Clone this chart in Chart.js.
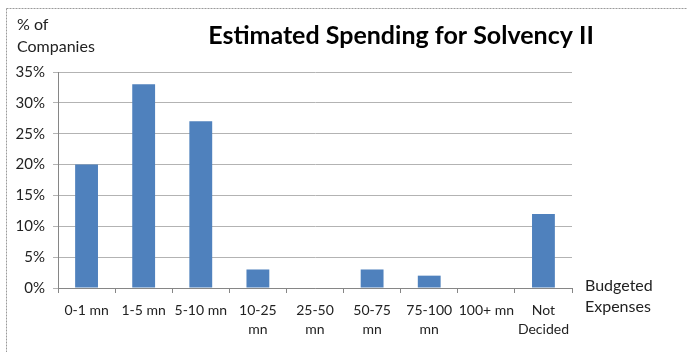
<!DOCTYPE html>
<html>
<head>
<meta charset="utf-8">
<script src="https://cdn.jsdelivr.net/npm/chart.js@4/dist/chart.umd.min.js"></script>
<style>
  html, body { margin: 0; padding: 0; background: #fff; }
  #wrap { width: 687px; height: 352px; position: relative; }
</style>
</head>
<body>
<div id="wrap"><canvas id="chart" width="687" height="352"></canvas></div>
<script>
// Chart data
const categories = [
  '0-1 mn', '1-5 mn', '5-10 mn', ['10-25', 'mn'], ['25-50', 'mn'],
  ['50-75', 'mn'], ['75-100', 'mn'], '100+ mn', ['Not', 'Decided']
];
const shares = [20, 33, 27, 3, 0, 3, 2, 0, 12];
const yTicks = [0, 5, 10, 15, 20, 25, 30, 35];

const titleText = 'Estimated Spending for Solvency II';
const yTitle = ['% of', 'Companies'];
const xTitle = ['Budgeted', 'Expenses'];

const FONT = 'Lato, "Open Sans", sans-serif';
const barColor = '#4F81BD';

// Draws the frame, title and axis captions
const textPlugin = {
  id: 'texts',
  beforeDraw(chart) {
    const ctx = chart.ctx;
    ctx.save();
    ctx.strokeStyle = '#9a9a9a';
    ctx.setLineDash([2, 1]);
    ctx.lineWidth = 1;
    ctx.strokeRect(6.5, 8.5, 700, 360);
    ctx.restore();
  },
  afterDraw(chart) {
    const ctx = chart.ctx;
    const area = chart.chartArea;
    ctx.save();
    ctx.fillStyle = '#000';
    ctx.textBaseline = 'middle';
    ctx.font = 'bold 25px ' + FONT;
    ctx.textAlign = 'center';
    ctx.fillText(titleText, 401, 36);

    ctx.font = '16px ' + FONT;
    ctx.fillStyle = '#222';
    ctx.textAlign = 'left';
    ctx.fillText(yTitle[0], 17, 25);
    ctx.fillText(yTitle[1], 17, 47);
    ctx.fillText(xTitle[0], area.right + 13, area.bottom - 2);
    ctx.fillText(xTitle[1], area.right + 13, area.bottom + 19);
    ctx.restore();
  }
};

new Chart(document.getElementById('chart'), {
  type: 'bar',
  data: {
    labels: categories,
    datasets: [{
      data: shares,
      backgroundColor: barColor,
      borderWidth: 0,
      barPercentage: 0.8,
      categoryPercentage: 0.5
    }]
  },
  options: {
    responsive: false,
    animation: false,
    layout: { padding: { left: 0, right: 115, top: 72, bottom: 0 } },
    plugins: {
      legend: { display: false },
      tooltip: { enabled: false }
    },
    scales: {
      x: {
        afterFit(scale) { scale.height = 64; },
        grid: {
          offset: true,
          drawOnChartArea: false,
          drawTicks: true,
          tickLength: 5,
          color: '#868686'
        },
        border: { color: '#868686' },
        ticks: {
          color: '#222',
          font: { family: FONT, size: 14, lineHeight: 1.35 },
          maxRotation: 0,
          autoSkip: false,
          padding: 8
        }
      },
      y: {
        min: 0,
        max: 35,
        afterFit(scale) { scale.width = 58; },
        afterBuildTicks(scale) { scale.ticks = yTicks.map(v => ({ value: v })); },
        grid: { color: '#b3b3b3', tickLength: 5 },
        border: { color: '#868686' },
        ticks: {
          color: '#222',
          font: { family: FONT, size: 15 },
          padding: 8,
          callback: v => v + '%'
        }
      }
    }
  },
  plugins: [textPlugin]
});
</script>
</body>
</html>
